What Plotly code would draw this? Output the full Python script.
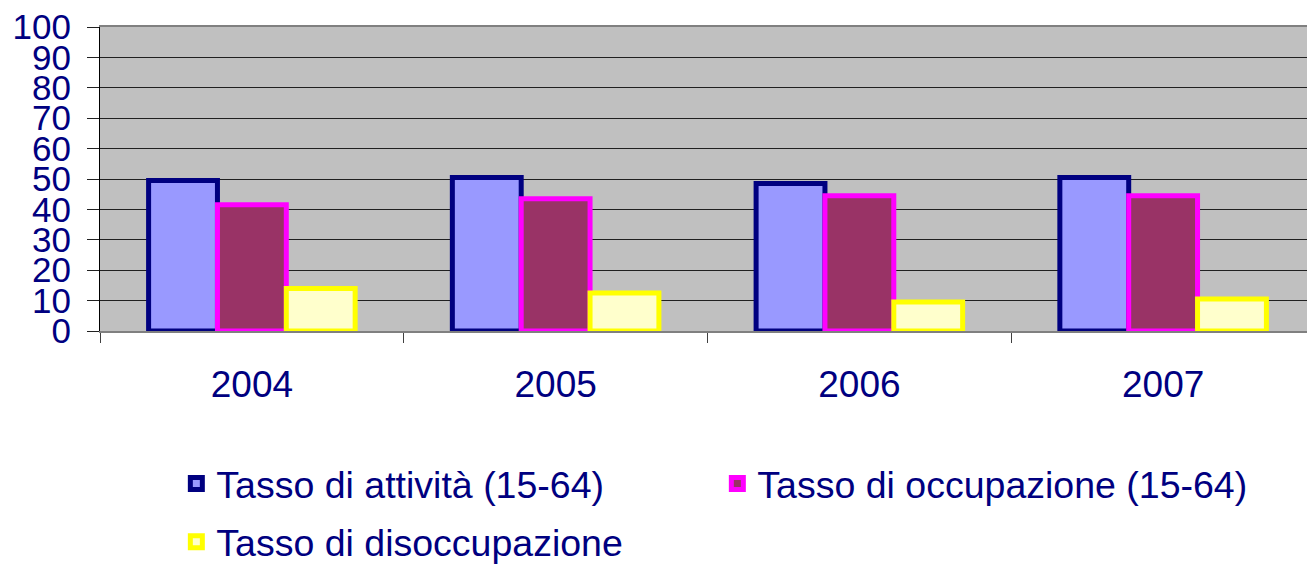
import plotly.graph_objects as go

years = ["2004", "2005", "2006", "2007"]
attivita = [49.5, 50.5, 48.5, 50.5]
occupazione = [41.5, 43.5, 44.5, 44.5]
disoccupazione = [14.0, 12.5, 9.5, 10.5]
series_names = ["Tasso di attività (15-64)", "Tasso di occupazione (15-64)", "Tasso di disoccupazione"]
y_ticks = [0, 10, 20, 30, 40, 50, 60, 70, 80, 90, 100]

FONT = "Liberation Sans, Arial, sans-serif"
NAVY = "#000080"

fig = go.Figure()
fig.add_trace(go.Bar(x=years, y=attivita, name=series_names[0],
                     marker=dict(color="#9999FF", line=dict(color="#000080", width=5)),
                     legend="legend"))
fig.add_trace(go.Bar(x=years, y=occupazione, name=series_names[1],
                     marker=dict(color="#993366", line=dict(color="#FF00FF", width=5)),
                     legend="legend"))
fig.add_trace(go.Bar(x=years, y=disoccupazione, name=series_names[2],
                     marker=dict(color="#FFFFCC", line=dict(color="#FFFF00", width=5)),
                     legend="legend2"))

fig.update_layout(
    width=1307, height=557,
    margin=dict(l=92, r=0, t=19, b=234, autoexpand=False),
    paper_bgcolor="white", plot_bgcolor="#C0C0C0",
    barmode="group", bargap=0.32, bargroupgap=0,
    font=dict(family=FONT, size=36, color=NAVY),
    showlegend=True,
    legend=dict(orientation="h", xref="container", yref="container",
                x=0.1288, y=0.2016, xanchor="left", yanchor="top",
                entrywidth=496, entrywidthmode="pixels",
                font=dict(family=FONT, size=37.5, color=NAVY),
                bgcolor="rgba(0,0,0,0)", traceorder="normal"),
    legend2=dict(orientation="h", xref="container", yref="container",
                 x=0.1288, y=0.097, xanchor="left", yanchor="top",
                 font=dict(family=FONT, size=37.5, color=NAVY),
                 bgcolor="rgba(0,0,0,0)"),
    xaxis=dict(type="category", tickson="boundaries", ticks="outside", ticklen=10,
               tickcolor="#404040", showline=True, linecolor="#808080", linewidth=2,
               mirror=True, showgrid=False, ticklabelstandoff=20, automargin=False,
               ticklabeloverflow="allow",
               tickfont=dict(family=FONT, size=37, color=NAVY)),
    yaxis=dict(range=[0, 100], tickvals=y_ticks, ticks="outside", ticklen=12,
               tickcolor="#202020", showline=True, linecolor="black", linewidth=1,
               showgrid=True, gridcolor="#202020", gridwidth=1, zeroline=False,
               ticklabelstandoff=9, automargin=False, ticklabeloverflow="allow",
               tickfont=dict(family=FONT, size=35, color=NAVY)),
)

fig.write_html("out.html")
